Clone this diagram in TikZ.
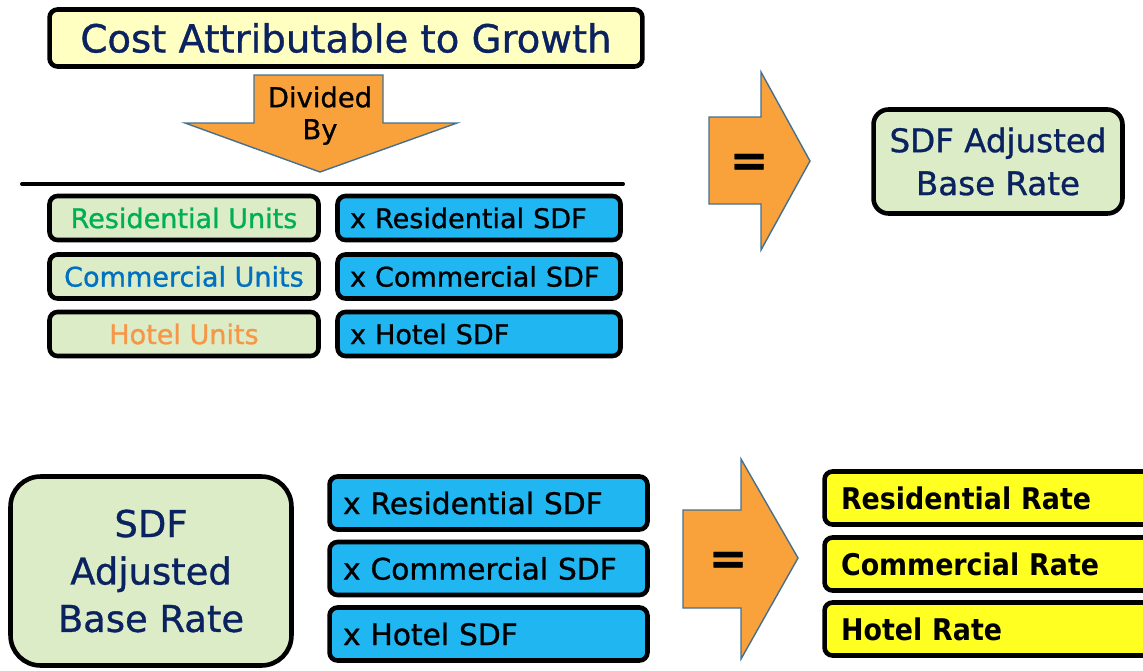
\documentclass[tikz,border=0pt]{standalone}
\usepackage{fontspec}
\setmainfont{DejaVu Sans}[FakeBold=0.9]
\newfontfamily\ratefont{DejaVu Sans}[FakeStretch=0.9]
\usepackage{xcolor}
\usepackage{tikz}
\usetikzlibrary{calc}

\definecolor{navytext}{HTML}{0A2260}
\definecolor{titlefill}{HTML}{FFFFC2}
\definecolor{unitfill}{HTML}{DBECC6}
\definecolor{sdfblue}{HTML}{20B6F1}
\definecolor{ratefill}{HTML}{FFFF22}
\definecolor{arroworange}{HTML}{F9A23C}
\definecolor{arrowedge}{HTML}{45708F}
\definecolor{resgreen}{HTML}{00B050}
\definecolor{comblue}{HTML}{0070C0}
\definecolor{hotelorange}{HTML}{F79646}

\tikzset{
  box/.style={draw=black,line width=2.6pt,rounded corners=0.16cm},
  unitbox/.style={box,fill=unitfill,minimum width=5.38cm,minimum height=0.88cm,
    font=\fontsize{15.4}{18}\selectfont},
  topsdf/.style={box,fill=sdfblue,align=left,inner xsep=0.25cm,text width=5.16cm,
    minimum height=0.88cm,font=\fontsize{15.4}{18}\selectfont},
  lowsdf/.style={box,fill=sdfblue,align=left,inner xsep=0.27cm,text width=5.82cm,
    minimum height=1.06cm,font=\fontsize{16.9}{20}\selectfont},
  ratebox/.style={box,fill=ratefill,align=left,inner xsep=0.33cm,text width=6.14cm,
    minimum height=1.06cm,font=\ratefont\bfseries\fontsize{17}{20}\selectfont},
  bigarrow/.style={fill=arroworange,draw=arrowedge,line width=0.8pt,line join=miter},
  equalsign/.style={font=\bfseries\fontsize{26}{26}\selectfont},
}

\begin{document}
\begin{tikzpicture}[x=0.02cm,y=-0.02cm]
    \useasboundingbox (0,0) rectangle (1143,670);
    \clip (0,0) rectangle (1143,670);

    % numerator
    \node[box,fill=titlefill,minimum width=11.86cm,minimum height=1.14cm,
      text=navytext,font=\fontsize{22}{26}\selectfont] (cost) at (346,38)
      {Cost Attributable to Growth};
    \draw[bigarrow] (254,75) -- (383,75) -- (383,123) -- (457,123) -- (320,172)
      -- (185,123) -- (254,123) -- cycle;
    \node[font=\fontsize{15.6}{18}\selectfont] (divided) at (320,97) {Divided};
    \node[font=\fontsize{15.6}{18}\selectfont] (by) at (320,132) {By};
    \draw[line width=2.3pt,line cap=round] (22,184) -- (623,184);

    % denominator
    \node[unitbox,text=resgreen] (resunits) at (184,218) {Residential Units};
    \node[unitbox,text=comblue] (comunits) at (184,276.5) {Commercial Units};
    \node[unitbox,text=hotelorange] (hotunits) at (184,334) {Hotel Units};
    \node[topsdf] (ressdf) at (479,218) {x Residential SDF};
    \node[topsdf] (comsdf) at (479,276.5) {x Commercial SDF};
    \node[topsdf] (hotsdf) at (479,334) {x Hotel SDF};

    % result
    \draw[bigarrow] (709,117) -- (761,117) -- (761,72) -- (810,161) -- (761,250)
      -- (761,204) -- (709,204) -- cycle;
    \node[equalsign] (eqtop) at (749,165) {=};
    \node[box,fill=unitfill,rounded corners=0.3cm,minimum width=4.98cm,
      minimum height=2.08cm,text=navytext,align=center,
      font=\fontsize{18.5}{24.4}\selectfont] (baserate) at (998,161.5)
      {SDF Adjusted\\Base Rate};

    % second step
    \node[box,fill=unitfill,rounded corners=0.6cm,minimum width=5.62cm,
      minimum height=3.78cm,text=navytext,align=center,
      font=\fontsize{21}{27}\selectfont] (adjrate) at (151,571)
      {SDF\\Adjusted\\Base Rate};
    \node[lowsdf] (ressdflow) at (488.5,503) {x Residential SDF};
    \node[lowsdf] (comsdflow) at (488.5,568.5) {x Commercial SDF};
    \node[lowsdf] (hotsdflow) at (488.5,634) {x Hotel SDF};

    \draw[bigarrow] (683,510) -- (741,510) -- (741,459) -- (798,558) -- (741,659)
      -- (741,608) -- (683,608) -- cycle;
    \node[equalsign] (eqlow) at (728,563) {=};

    \node[ratebox] (resrate) at (994.5,498) {Residential Rate};
    \node[ratebox] (comrate) at (994.5,564) {Commercial Rate};
    \node[ratebox] (hotrate) at (994.5,629) {Hotel Rate};
\end{tikzpicture}
\end{document}
